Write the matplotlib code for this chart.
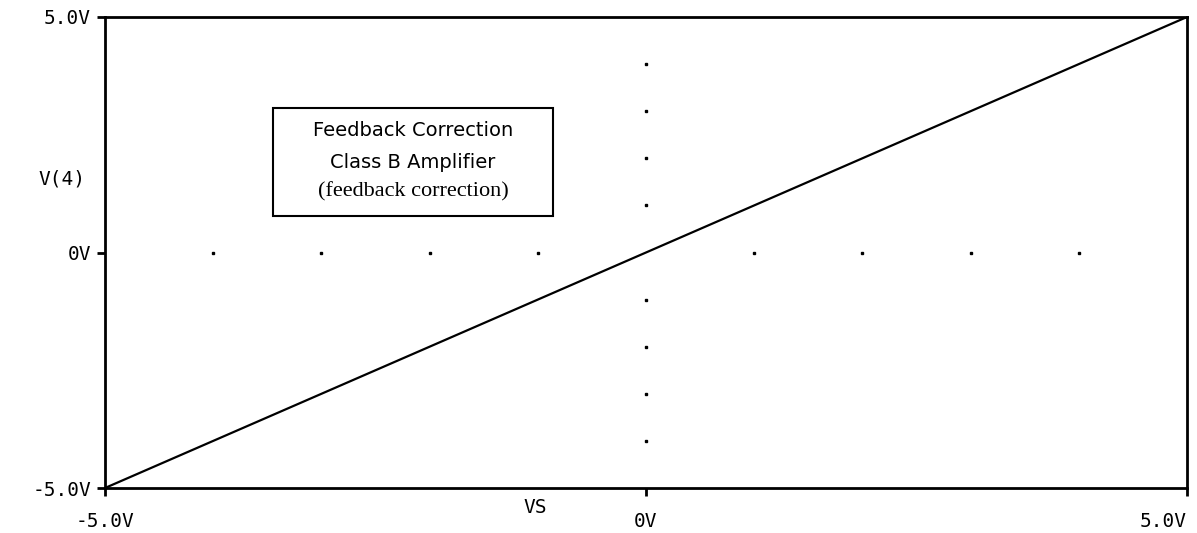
import matplotlib
matplotlib.use("Agg")
import matplotlib.pyplot as plt
import numpy as np

# sweep VS and output V(4)
vs = [-5.0, -4.0, -3.0, -2.0, -1.0, 0.0, 1.0, 2.0, 3.0, 4.0, 5.0]
v4 = [-5.0, -4.0, -3.0, -2.0, -1.0, 0.0, 1.0, 2.0, 3.0, 4.0, 5.0]

x_ticks = [-5.0, 0.0, 5.0]
x_labels = ["-5.0V", "0V", "5.0V"]
y_ticks = [-5.0, 0.0, 5.0]
y_labels = ["-5.0V", "0V", "5.0V"]
grid_steps = [-4, -3, -2, -1, 1, 2, 3, 4]

mono = "DejaVu Sans Mono"

fig = plt.figure(figsize=(11.97, 5.33), dpi=100)
ax = fig.add_axes([105 / 1197, 45 / 533, 1082 / 1197, 471 / 533])

ax.plot(vs, v4, color="black", linewidth=1.6, solid_capstyle="butt")

# dotted grid along zero axes
g = np.array(grid_steps, dtype=float)
ax.plot(g, np.zeros_like(g), linestyle="none", marker="s", markersize=1.6, color="black")
ax.plot(np.zeros_like(g), g, linestyle="none", marker="s", markersize=1.6, color="black")

ax.set_xlim(-5, 5)
ax.set_ylim(-5, 5)
for s in ax.spines.values():
    s.set_linewidth(2)
    s.set_color("black")

ax.set_xticks(x_ticks)
ax.set_xticklabels(x_labels, fontfamily=mono, fontsize=14)
ax.set_yticks(y_ticks)
ax.set_yticklabels(y_labels, fontfamily=mono, fontsize=14)
ax.tick_params(axis="both", direction="out", length=6, width=2, color="black")
ax.tick_params(axis="x", pad=11)
ax.tick_params(axis="y", pad=4)
xl = ax.get_xticklabels()
xl[-1].set_horizontalalignment("right")

ax.text(-0.04, 0.655, "V(4)", transform=ax.transAxes, ha="center", va="center",
        fontfamily=mono, fontsize=14)
ax.text(0.398, -0.042, "VS", transform=ax.transAxes, ha="center", va="center",
        fontfamily=mono, fontsize=14)

# title box
bx0, by0, bx1, by1 = 273, 108, 553, 216
fig.patches.append(plt.Rectangle((bx0 / 1197, 1 - by1 / 533), (bx1 - bx0) / 1197,
                                 (by1 - by0) / 533, transform=fig.transFigure,
                                 fill=False, edgecolor="black", linewidth=1.5))
cx = (bx0 + bx1) / 2 / 1197
fig.text(cx, 1 - 130 / 533, "Feedback Correction", ha="center", va="center",
         fontfamily="DejaVu Sans", fontsize=14)
fig.text(cx, 1 - 162 / 533, "Class B Amplifier", ha="center", va="center",
         fontfamily="DejaVu Sans", fontsize=14)
fig.text(cx, 1 - 192 / 533, "(feedback correction)", ha="center", va="center",
         fontfamily="Liberation Serif", fontsize=16)

fig.savefig("out.png", dpi=100)
